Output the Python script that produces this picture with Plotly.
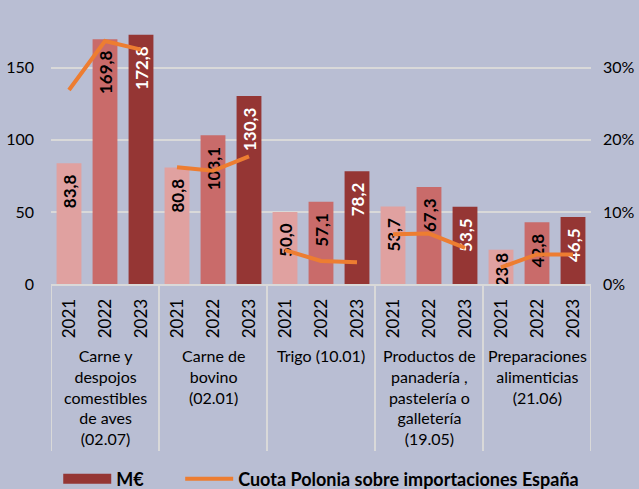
import plotly.graph_objects as go

categories = [
    "Carne y<br>despojos<br>comestibles<br>de aves<br>(02.07)",
    "Carne de<br>bovino<br>(02.01)",
    "Trigo (10.01)",
    "Productos de<br>panadería ,<br>pastelería o<br>galletería<br>(19.05)",
    "Preparaciones<br>alimenticias<br>(21.06)",
]
years = ["2021", "2022", "2023"]
values_2021 = [83.8, 80.8, 50.0, 53.7, 23.8]
values_2022 = [169.8, 103.1, 57.1, 67.3, 42.8]
values_2023 = [172.8, 130.3, 78.2, 53.5, 46.5]
share_pct = [
    [26.9, 33.7, 32.5],
    [16.2, 15.7, 17.7],
    [4.7, 3.2, 3.0],
    [6.9, 7.0, 5.0],
    [2.3, 4.1, 4.1],
]
left_ticks = [0, 50, 100, 150, 200]
right_ticks = [0, 10, 20, 30, 40]
right_tick_labels = ["0%", "10%", "20%", "30%", "40%"]

BG = "#B9BED3"
GRID = "#D9D9D9"
bar_colors = ["#E0A1A0", "#C96B6A", "#953634"]
label_colors = ["black", "black", "white"]
ORANGE = "#ED7D31"
FONT = "Lato"

W, H = 639, 489
ML, MR, MT, MB = 51, 48, 0, 205
plot_h = H - MT - MB  # 284
px_per_unit = 72.1 / 50
ymax = plot_h / px_per_unit
y2max = ymax / 5

n = len(categories)
series = [values_2021, values_2022, values_2023]

fig = go.Figure()
for yi, vals in enumerate(series):
    xs = [g * 3 + yi for g in range(n)]
    fig.add_trace(go.Bar(
        x=xs, y=vals, width=0.69,
        marker=dict(color=bar_colors[yi], line=dict(width=0)),
        text=[f"{v:.1f}".replace(".", ",") for v in vals],
        texttemplate=["%{text}\u2002" if v >= 30 else "%{text}" for v in vals],
        textposition="inside", insidetextanchor="end", textangle=-90,
        textfont=dict(family=FONT, size=17, color=label_colors[yi], weight="bold"),
        name="M€", showlegend=False,
        cliponaxis=False,
    ))

# legend entry for the bars (wide swatch like the original)
fig.add_trace(go.Scatter(
    x=[None], y=[None], mode="lines",
    line=dict(color=bar_colors[2], width=10),
    name="M€\u2003\u2003\u2005", legendrank=1, hoverinfo="skip",
))

lx, ly = [], []
for g in range(n):
    for yi in range(3):
        lx.append(g * 3 + yi)
        ly.append(share_pct[g][yi])
    lx.append(None)
    ly.append(None)
fig.add_trace(go.Scatter(
    x=lx, y=ly, yaxis="y2", mode="lines", connectgaps=False,
    line=dict(color=ORANGE, width=4),
    name="Cuota Polonia sobre importaciones España", legendrank=2,
))

shapes = []
for g in range(n + 1):
    shapes.append(dict(type="line", xref="x", yref="paper",
                       x0=g * 3 - 0.5, x1=g * 3 - 0.5,
                       y0=0, y1=-(167 / plot_h),
                       line=dict(color=GRID, width=2)))

annotations = []
for g, cat in enumerate(categories):
    annotations.append(dict(x=g * 3 + 1, xref="x", y=-(60 / plot_h), yref="paper",
                            text=cat, showarrow=False, yanchor="top", xanchor="center",
                            font=dict(family=FONT, size=16, color="black"),
                            align="center"))
annotations.append(dict(x=0, xref="paper", xanchor="right", xshift=-16,
                        y=left_ticks[-1], yref="y", text=str(left_ticks[-1]), showarrow=False,
                        font=dict(family=FONT, size=16, color="black")))
annotations.append(dict(x=1, xref="paper", xanchor="left", xshift=14,
                        y=right_ticks[-1], yref="y2", text=right_tick_labels[-1], showarrow=False,
                        font=dict(family=FONT, size=16, color="black")))

fig.update_layout(
    width=W, height=H,
    margin=dict(l=ML, r=MR, t=MT, b=MB, pad=0, autoexpand=False),
    paper_bgcolor=BG, plot_bgcolor=BG,
    barmode="overlay",
    font=dict(family=FONT, size=16, color="black"),
    xaxis=dict(
        range=[-0.5, n * 3 - 0.5],
        tickmode="array",
        tickvals=list(range(n * 3)),
        ticktext=years * n,
        tickangle=-90,
        tickfont=dict(family=FONT, size=17),
        ticks="", showgrid=False, zeroline=False,
        showline=True, linecolor=GRID, linewidth=2,
        ticklabelstandoff=6,
    ),
    yaxis=dict(
        range=[0, ymax], tickvals=left_ticks,
        showgrid=True, gridcolor=GRID, gridwidth=2,
        zeroline=False, showline=False, ticks="",
        tickfont=dict(family=FONT, size=16),
        ticklabelstandoff=16,
    ),
    yaxis2=dict(
        range=[0, y2max], tickmode="array", tickvals=right_ticks, ticktext=right_tick_labels,
        overlaying="y", side="right",
        showgrid=False, zeroline=False, showline=False, ticks="",
        tickfont=dict(family=FONT, size=16),
        ticklabelstandoff=11,
    ),
    uniformtext=dict(minsize=17, mode="show"),
    legend=dict(
        orientation="h", x=0.0134, xanchor="left", y=-(195 / plot_h), yanchor="middle",
        font=dict(family=FONT, size=18, color="black", weight="bold"),
        bgcolor="rgba(0,0,0,0)", itemwidth=48, traceorder="normal",
    ),
    shapes=shapes,
    annotations=annotations,
)

fig.write_html(
    "out.html",
    config={"displayModeBar": False},
    post_script="document.body.style.margin='0';document.body.style.overflow='hidden';",
)
